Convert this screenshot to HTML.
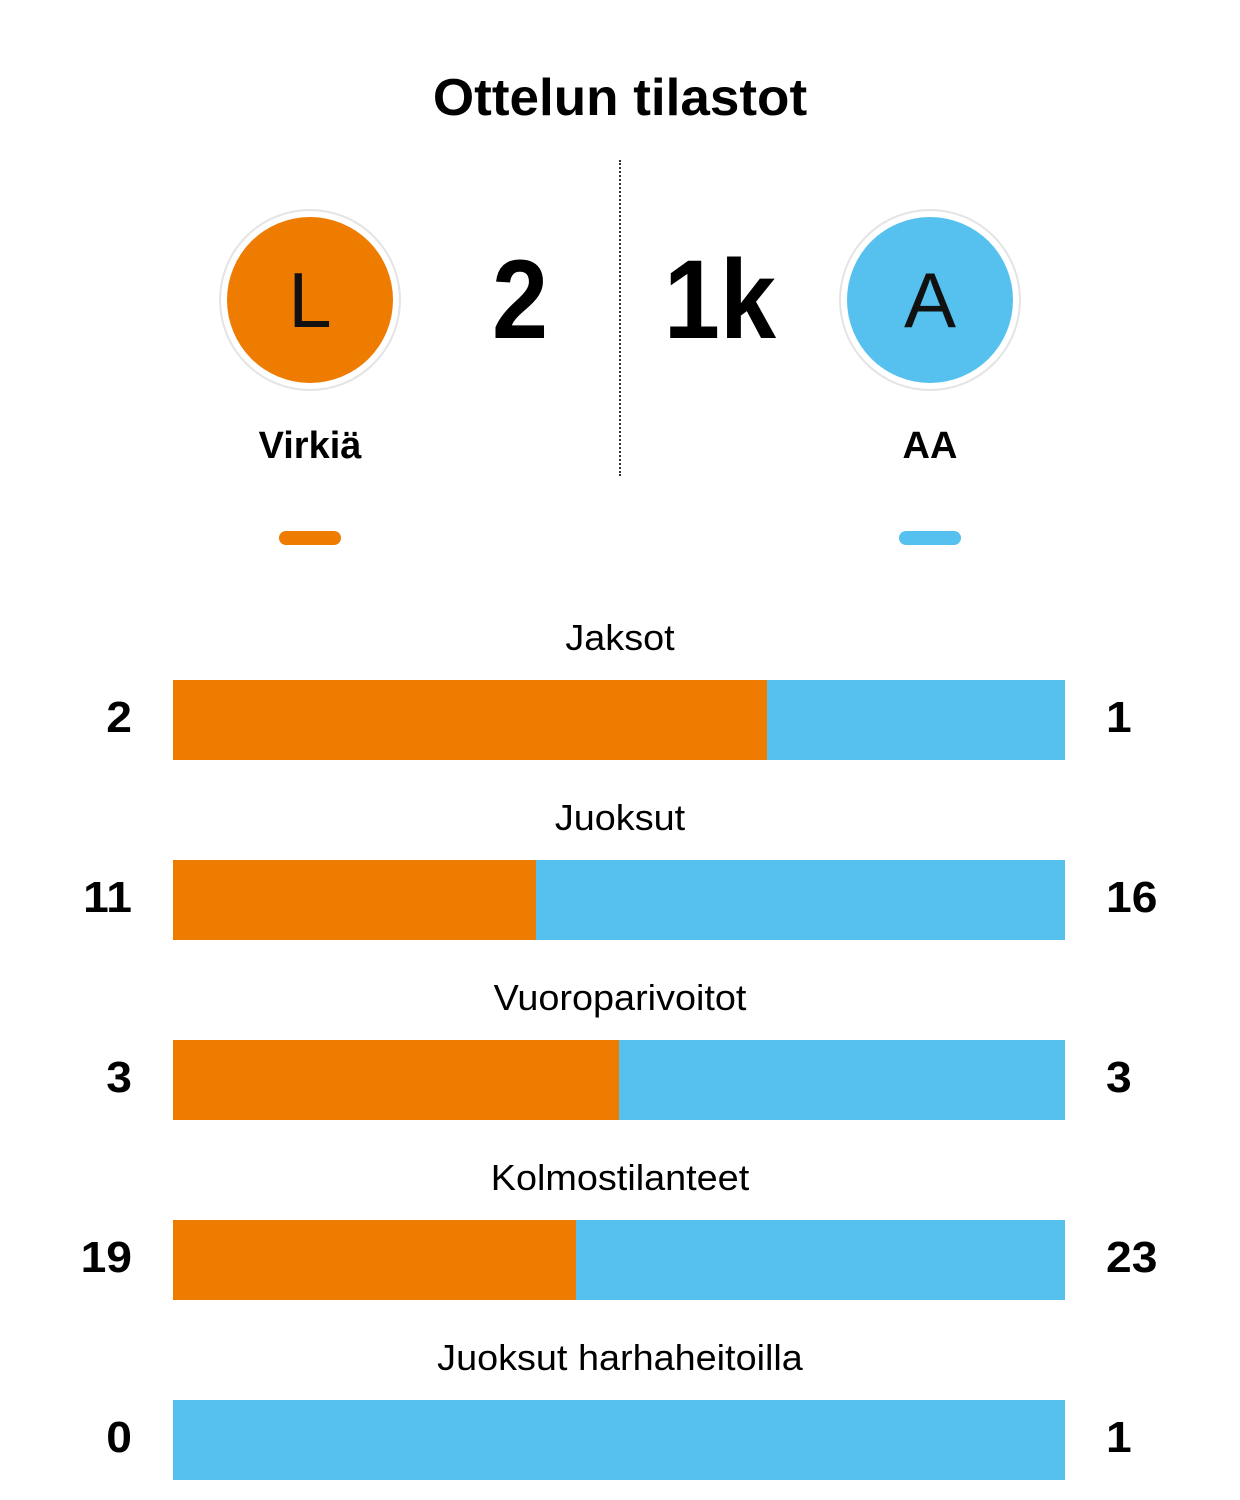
<!DOCTYPE html>
<html><head><meta charset="utf-8"><style>
body{margin:0;width:1240px;height:1500px;background:#fff;position:relative;font-family:"Liberation Sans",sans-serif;color:#000;overflow:hidden}
.a{position:absolute}
.t{left:0;width:1240px;text-align:center;top:68px;font-size:52px;font-weight:bold;transform:scaleX(1.02)}
.ring{width:182px;height:182px;border-radius:50%;border:2px solid #e4e4e4;box-sizing:border-box}
.c{width:166px;height:166px;border-radius:50%;text-align:center;line-height:166px;font-size:78px;font-weight:300;color:#111}
.score{top:235px;font-size:112px;font-weight:bold;width:200px;text-align:center;transform:scaleX(0.9)}
.name{top:425px;width:300px;text-align:center;font-size:38px;font-weight:bold;transform:scaleX(1.0)}
.pill{top:531px;width:62px;height:14px;border-radius:7px}
.lab{left:0;width:1240px;text-align:center;font-size:36px;transform:scaleX(1.05)}
.bar{left:173px;width:892px;height:80px;background:#56c1ef}
.bar div{height:80px;background:#ee7c00}
.vl{left:0;width:132px;text-align:right;font-size:44px;font-weight:bold;transform-origin:right;transform:scaleX(1.05)}
.vr{left:1106px;font-size:44px;font-weight:bold;transform-origin:left;transform:scaleX(1.05)}
</style></head><body>
<div class="a t">Ottelun tilastot</div>
<div class="a" style="left:619px;top:160px;height:316px;border-left:2px dotted #333"></div>
<div class="a ring" style="left:219px;top:209px"></div>
<div class="a c" style="left:227px;top:217px;background:#ee7c00">L</div>
<div class="a ring" style="left:839px;top:209px"></div>
<div class="a c" style="left:847px;top:217px;background:#56c1ef">A</div>
<div class="a score" style="left:420px">2</div>
<div class="a score" style="left:620px">1k</div>
<div class="a name" style="left:160px">Virkiä</div>
<div class="a name" style="left:780px">AA</div>
<div class="a pill" style="left:279px;background:#ee7c00"></div>
<div class="a pill" style="left:899px;background:#56c1ef"></div>

<div class="a lab" style="top:617px">Jaksot</div>
<div class="a bar" style="top:680px"><div style="width:594px"></div></div>
<div class="a vl" style="top:693px">2</div><div class="a vr" style="top:693px">1</div>

<div class="a lab" style="top:797px">Juoksut</div>
<div class="a bar" style="top:860px"><div style="width:363px"></div></div>
<div class="a vl" style="top:873px">11</div><div class="a vr" style="top:873px">16</div>

<div class="a lab" style="top:977px">Vuoroparivoitot</div>
<div class="a bar" style="top:1040px"><div style="width:446px"></div></div>
<div class="a vl" style="top:1053px">3</div><div class="a vr" style="top:1053px">3</div>

<div class="a lab" style="top:1157px">Kolmostilanteet</div>
<div class="a bar" style="top:1220px"><div style="width:403px"></div></div>
<div class="a vl" style="top:1233px">19</div><div class="a vr" style="top:1233px">23</div>

<div class="a lab" style="top:1337px">Juoksut harhaheitoilla</div>
<div class="a bar" style="top:1400px"><div style="width:0"></div></div>
<div class="a vl" style="top:1413px">0</div><div class="a vr" style="top:1413px">1</div>
</body></html>
